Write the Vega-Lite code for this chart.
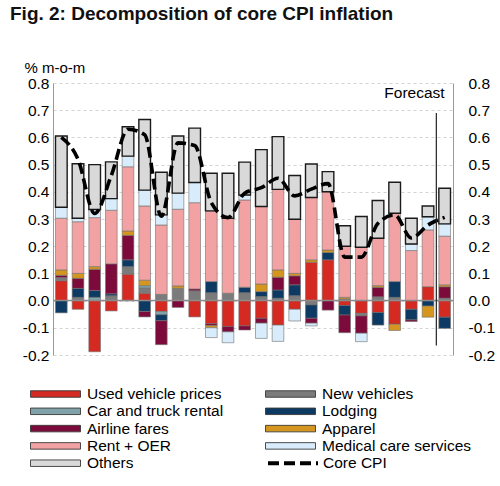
{
  "$schema": "https://vega.github.io/schema/vega-lite/v6.json",
  "width": 400,
  "height": 272,
  "autosize": {"type": "none"},
  "padding": {"left": 53, "top": 83, "right": 47, "bottom": 131},
  "background": "white",
  "title": {
    "text": "Fig. 2: Decomposition of core CPI inflation",
    "anchor": "start", "frame": "group",
    "font": "Liberation Sans", "fontSize": 19, "fontWeight": "bold", "color": "#111",
    "dx": -43, "offset": 36
  },
  "config": {
    "view": {"stroke": null},
    "font": "Liberation Sans",
    "axis": {"labelFont": "Liberation Sans", "labelFontSize": 15.5, "labelColor": "#000", "titleFont": "Liberation Sans"},
    "legend": {"labelFont": "Liberation Sans", "labelFontSize": 15.5, "labelColor": "#000"}
  },
  "data": {
    "values": [
      {"m": "Jan-22", "Used vehicle prices": 0.073, "New vehicles": 0.012, "Lodging": -0.045, "Airline fares": 0.008, "Apparel": 0.02, "Rent + OER": 0.19, "Medical care services": 0.04, "Others": 0.262, "core": 0.6},
      {"m": "Feb-22", "Used vehicle prices": -0.032, "New vehicles": 0.012, "Lodging": 0.033, "Airline fares": 0.037, "Apparel": 0.018, "Rent + OER": 0.19, "Medical care services": 0.013, "Others": 0.2, "core": 0.52},
      {"m": "Mar-22", "Used vehicle prices": -0.188, "Car and truck rental": 0.012, "Lodging": 0.025, "Airline fares": 0.078, "Apparel": 0.01, "Rent + OER": 0.18, "Medical care services": 0.03, "Others": 0.165, "core": 0.32},
      {"m": "Apr-22", "Used vehicle prices": -0.038, "New vehicles": 0.018, "Lodging": 0.007, "Airline fares": 0.11, "Rent + OER": 0.197, "Medical care services": 0.043, "Others": 0.135, "core": 0.46},
      {"m": "May-22", "Used vehicle prices": 0.097, "New vehicles": 0.028, "Lodging": 0.025, "Airline fares": 0.09, "Apparel": 0.016, "Rent + OER": 0.236, "Medical care services": 0.039, "Others": 0.108, "core": 0.63},
      {"m": "Jun-22", "Used vehicle prices": 0.027, "New vehicles": 0.02, "Car and truck rental": 0.008, "Lodging": -0.04, "Airline fares": -0.02, "Apparel": 0.02, "Rent + OER": 0.273, "Medical care services": 0.058, "Others": 0.26, "core": 0.61},
      {"m": "Jul-22", "Used vehicle prices": -0.04, "New vehicles": 0.023, "Car and truck rental": -0.012, "Lodging": -0.022, "Airline fares": -0.088, "Rent + OER": 0.255, "Medical care services": 0.037, "Others": 0.157, "core": 0.31},
      {"m": "Aug-22", "New vehicles": 0.045, "Airline fares": -0.025, "Apparel": 0.009, "Rent + OER": 0.282, "Medical care services": 0.059, "Others": 0.21, "core": 0.58},
      {"m": "Sep-22", "Used vehicle prices": -0.06, "New vehicles": 0.036, "Airline fares": 0.007, "Rent + OER": 0.317, "Medical care services": 0.074, "Others": 0.2, "core": 0.57},
      {"m": "Oct-22", "Used vehicle prices": -0.085, "New vehicles": 0.029, "Lodging": 0.041, "Airline fares": -0.007, "Apparel": -0.008, "Rent + OER": 0.26, "Medical care services": -0.036, "Others": 0.138, "core": 0.36},
      {"m": "Nov-22", "Used vehicle prices": -0.095, "New vehicles": 0.027, "Airline fares": -0.02, "Rent + OER": 0.276, "Medical care services": -0.04, "Others": 0.165, "core": 0.305},
      {"m": "Dec-22", "Used vehicle prices": -0.093, "New vehicles": 0.029, "Lodging": 0.02, "Airline fares": -0.015, "Rent + OER": 0.321, "Medical care services": 0.018, "Others": 0.121, "core": 0.395},
      {"m": "Jan-23", "Used vehicle prices": -0.065, "New vehicles": 0.015, "Lodging": 0.018, "Airline fares": -0.018, "Apparel": 0.028, "Rent + OER": 0.285, "Medical care services": -0.056, "Others": 0.209, "core": 0.415},
      {"m": "Feb-23", "Used vehicle prices": -0.09, "New vehicles": 0.009, "Lodging": 0.03, "Airline fares": 0.047, "Apparel": 0.027, "Rent + OER": 0.296, "Medical care services": -0.06, "Others": 0.194, "core": 0.45},
      {"m": "Mar-23", "Used vehicle prices": -0.032, "New vehicles": 0.018, "Lodging": 0.04, "Airline fares": 0.033, "Apparel": 0.009, "Rent + OER": 0.199, "Medical care services": -0.043, "Others": 0.161, "core": 0.385},
      {"m": "Apr-23", "Used vehicle prices": 0.141, "New vehicles": -0.016, "Lodging": -0.049, "Airline fares": -0.018, "Apparel": 0.009, "Rent + OER": 0.229, "Medical care services": -0.01, "Others": 0.123, "core": 0.41},
      {"m": "May-23", "Used vehicle prices": 0.15, "Lodging": 0.027, "Airline fares": -0.035, "Apparel": 0.009, "Rent + OER": 0.214, "Others": 0.074, "core": 0.43},
      {"m": "Jun-23", "Used vehicle prices": -0.018, "New vehicles": 0.006, "Lodging": -0.035, "Airline fares": -0.065, "Apparel": 0.006, "Rent + OER": 0.188, "Others": 0.075, "core": 0.16},
      {"m": "Jul-23", "Used vehicle prices": -0.047, "New vehicles": -0.009, "Airline fares": -0.064, "Rent + OER": 0.196, "Medical care services": -0.031, "Others": 0.113, "core": 0.16},
      {"m": "Aug-23", "Used vehicle prices": -0.044, "New vehicles": 0.014, "Lodging": -0.046, "Airline fares": 0.035, "Apparel": 0.006, "Rent + OER": 0.174, "Others": 0.139, "core": 0.284},
      {"m": "Sep-23", "Used vehicle prices": -0.087, "New vehicles": 0.012, "Lodging": 0.058, "Apparel": -0.023, "Rent + OER": 0.251, "Others": 0.114, "core": 0.315},
      {"m": "Oct-23", "Used vehicle prices": -0.032, "Lodging": -0.039, "Airline fares": -0.006, "Rent + OER": 0.184, "Medical care services": 0.024, "Others": 0.095, "core": 0.23},
      {"m": "Nov-23", "Used vehicle prices": 0.051, "Lodging": -0.02, "Apparel": -0.041, "Rent + OER": 0.209, "Medical care services": 0.048, "Others": 0.04, "core": 0.278},
      {"m": "Dec-23", "Used vehicle prices": -0.061, "New vehicles": 0.009, "Lodging": -0.041, "Airline fares": 0.042, "Apparel": 0.007, "Rent + OER": 0.179, "Medical care services": 0.045, "Others": 0.131, "core": 0.306}
    ]
  },
  "layer": [
    {
      "transform": [
        {"fold": ["Used vehicle prices", "New vehicles", "Car and truck rental", "Lodging", "Airline fares", "Apparel", "Rent + OER", "Medical care services", "Others"], "as": ["cat", "v"]},
        {"filter": "isValid(datum.v) && datum.v !== 0"},
        {"calculate": "indexof(['Used vehicle prices', 'New vehicles', 'Car and truck rental', 'Lodging', 'Airline fares', 'Apparel', 'Rent + OER', 'Medical care services', 'Others'], datum.cat)", "as": "ord"}
      ],
      "mark": {"type": "bar", "width": {"band": 0.7}},
      "encoding": {
        "x": {
          "field": "m", "type": "nominal",
          "scale": {"domain": ["Jan-22", "Feb-22", "Mar-22", "Apr-22", "May-22", "Jun-22", "Jul-22", "Aug-22", "Sep-22", "Oct-22", "Nov-22", "Dec-22", "Jan-23", "Feb-23", "Mar-23", "Apr-23", "May-23", "Jun-23", "Jul-23", "Aug-23", "Sep-23", "Oct-23", "Nov-23", "Dec-23"], "paddingInner": 0, "paddingOuter": 0},
          "axis": {
            "title": null,
            "values": ["Jan-22", "Apr-22", "Jul-22", "Oct-22", "Jan-23", "Apr-23", "Jul-23", "Oct-23"],
            "tickBand": "extent", "ticks": false, "domain": false,
            "grid": true, "gridDash": [3, 3], "gridColor": "#c8c8c8", "gridWidth": 0.8,
            "labelAngle": 0, "labelPadding": 9, "labelOverlap": false, "labelFlush": false
          }
        },
        "y": {
          "field": "v", "type": "quantitative", "stack": "zero",
          "scale": {"domain": [-0.2, 0.8], "nice": false},
          "axis": {
            "orient": "left",
            "values": [-0.2, -0.1, 0, 0.1, 0.2, 0.3, 0.4, 0.5, 0.6, 0.7, 0.8],
            "labelExpr": "replace(format(datum.value, '.1f'), '\u2212', '-')",
            "grid": true, "gridDash": [3, 3], "gridColor": "#c8c8c8", "gridWidth": 0.8,
            "ticks": false, "domain": true, "domainColor": "#9a9a9a", "domainWidth": 1,
            "labelPadding": 4,
            "title": "% m-o-m", "titleAngle": 0, "titleAlign": "left", "titleBaseline": "alphabetic",
            "titleX": -29, "titleY": -11, "titleFontSize": 15, "titleFontWeight": "normal", "titleColor": "#000"
          }
        },
        "color": {
          "field": "cat", "type": "nominal",
          "scale": {
            "domain": ["Used vehicle prices", "New vehicles", "Car and truck rental", "Lodging", "Airline fares", "Apparel", "Rent + OER", "Medical care services", "Others"],
            "range": ["#d42a22", "#7b7b7b", "#7fa3a8", "#0d3a63", "#7c0a3a", "#d4961f", "#f2a2a2", "#d8ecfb", "#d9d9d9"]
          },
          "legend": {
            "title": null, "orient": "none", "legendX": -23, "legendY": 302.5,
            "values": ["Used vehicle prices", "Car and truck rental", "Airline fares", "Rent + OER", "Others", "New vehicles", "Lodging", "Apparel", "Medical care services"],
            "columns": 2, "columnPadding": 41, "rowPadding": 0.3, "padding": 0,
            "clipHeight": 17, "symbolSize": 2500, "labelOffset": 6,
            "symbolType": "M-1,-0.13H1V0.13H-1Z",
            "symbolStrokeColor": "#3a3a3a", "symbolStrokeWidth": 0.9, "symbolOpacity": 1
          }
        },
        "order": {"field": "ord", "type": "quantitative"},
        "stroke": {"condition": {"test": "datum.cat === 'Others'", "value": "#1a1a1a"}, "value": "#707070"},
        "strokeWidth": {"condition": {"test": "datum.cat === 'Others'", "value": 1.4}, "value": 0.6}
      }
    },
    {
      "data": {"values": [{}]},
      "mark": {"type": "rule", "color": "#8c8c8c", "strokeWidth": 1.5},
      "encoding": {
        "y": {"datum": 0, "type": "quantitative", "scale": {"domain": [-0.2, 0.8], "nice": false}, "axis": null}
      }
    },
    {
      "mark": {"type": "line", "color": "#000", "strokeWidth": 3.6, "interpolate": "monotone"},
      "encoding": {
        "x": {"field": "m", "type": "nominal", "scale": {"domain": ["Jan-22", "Feb-22", "Mar-22", "Apr-22", "May-22", "Jun-22", "Jul-22", "Aug-22", "Sep-22", "Oct-22", "Nov-22", "Dec-22", "Jan-23", "Feb-23", "Mar-23", "Apr-23", "May-23", "Jun-23", "Jul-23", "Aug-23", "Sep-23", "Oct-23", "Nov-23", "Dec-23"], "paddingInner": 0, "paddingOuter": 0}, "axis": null},
        "y": {
          "field": "core", "type": "quantitative",
          "scale": {"domain": [-0.2, 0.8], "nice": false},
          "axis": {
            "orient": "right", "title": null,
            "values": [-0.2, -0.1, 0, 0.1, 0.2, 0.3, 0.4, 0.5, 0.6, 0.7, 0.8],
            "labelExpr": "replace(format(datum.value, '.1f'), '\u2212', '-')",
            "grid": false, "ticks": false, "domain": true, "domainColor": "#9a9a9a", "domainWidth": 1,
            "labelPadding": 15
          }
        },
        "strokeDash": {
          "datum": "Core CPI", "type": "nominal",
          "scale": {"domain": ["Core CPI"], "range": [[11, 5]]},
          "legend": {
            "title": null, "orient": "none", "legendX": 213, "legendY": 371.7, "padding": 0,
            "clipHeight": 17, "symbolSize": 2500, "labelOffset": 3,
            "symbolType": "stroke", "symbolStrokeColor": "#000", "symbolStrokeWidth": 4
          }
        }
      }
    },
    {
      "data": {"values": [{}]},
      "mark": {"type": "rule", "color": "#222", "strokeWidth": 1.2},
      "encoding": {
        "x": {"datum": "Dec-23", "type": "nominal", "bandPosition": 0, "axis": null},
        "y": {"datum": 0.69, "type": "quantitative", "scale": {"domain": [-0.2, 0.8], "nice": false}, "axis": null},
        "y2": {"datum": -0.165}
      }
    },
    {
      "data": {"values": [{"t": "Forecast"}]},
      "mark": {"type": "text", "align": "right", "baseline": "middle", "font": "Liberation Sans", "fontSize": 15.5, "color": "#000"},
      "encoding": {
        "x": {"datum": "Dec-23", "type": "nominal", "axis": null},
        "y": {"datum": 0.765, "type": "quantitative", "scale": {"domain": [-0.2, 0.8], "nice": false}, "axis": null},
        "text": {"field": "t"}
      }
    }
  ],
  "resolve": {"axis": {"y": "independent"}}
}
